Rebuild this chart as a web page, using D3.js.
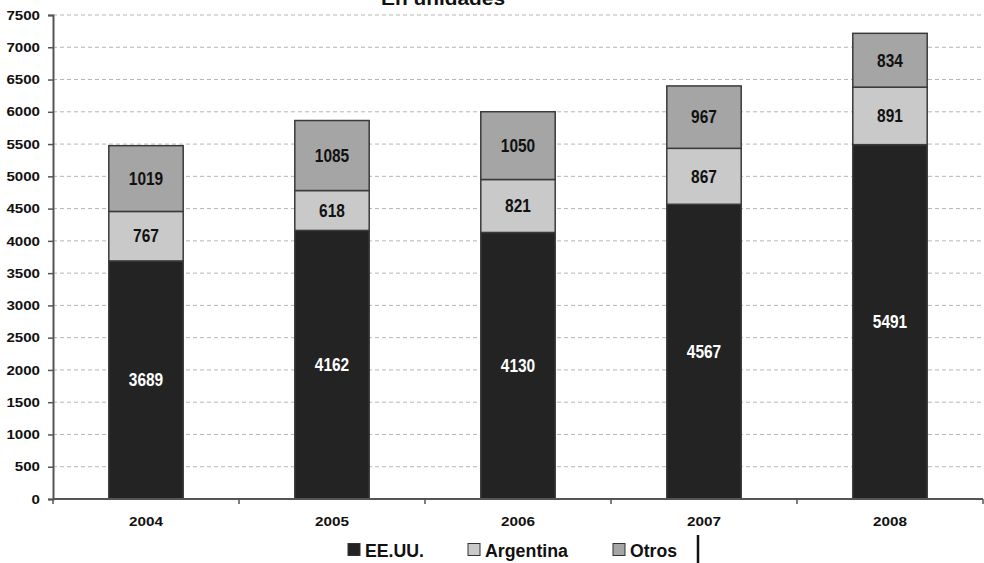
<!DOCTYPE html>
<html><head><meta charset="utf-8">
<script src="https://cdn.jsdelivr.net/npm/d3@7"></script>
<style>body{margin:0;background:#fff}svg{display:block}</style>
</head><body>
<svg id="c" width="984" height="563"></svg>
<script>
const years = ["2004","2005","2006","2007","2008"];
const seriesNames = ["EE.UU.","Argentina","Otros"];
const eeuu = [3689,4162,4130,4567,5491];
const argentina = [767,618,821,867,891];
const otros = [1019,1085,1050,967,834];
const yTicks = [0,500,1000,1500,2000,2500,3000,3500,4000,4500,5000,5500,6000,6500,7000,7500];
const colors = ["#232323","#c9c9c9","#a5a5a5"];
const labelColors = ["#ffffff","#111","#111"];

(function(){
const FONT = "'Liberation Sans',Arial,sans-serif";
const data = years.map((y,i)=>({year:y,"EE.UU.":eeuu[i],"Argentina":argentina[i],"Otros":otros[i]}));
const stack = d3.stack().keys(seriesNames)(data);

const svg = d3.select("#c");
const mLeft = 53, mRight = 983, mTop = 15, mBottom = 499;
const x = d3.scaleBand().domain(years).range([mLeft,mRight]).paddingInner(0.6).paddingOuter(0.3);
const y = d3.scaleLinear().domain([0,7500]).range([mBottom,mTop]);

svg.append("g").selectAll("line").data(yTicks.filter(d=>d>0)).join("line")
  .attr("x1",mLeft).attr("x2",984).attr("y1",d=>y(d)).attr("y2",d=>y(d))
  .attr("stroke","#b5b5b5").attr("stroke-dasharray","4,3").attr("stroke-width",1);

const g = svg.append("g");
stack.forEach((s,si)=>{
  g.append("g").selectAll("rect").data(s).join("rect")
    .attr("x",d=>x(d.data.year)).attr("width",x.bandwidth())
    .attr("y",d=>y(d[1])).attr("height",d=>y(d[0])-y(d[1]))
    .attr("fill",colors[si]).attr("stroke","#3a3a3a").attr("stroke-width",1.5);
});
stack.forEach((s,si)=>{
  g.append("g").selectAll("text").data(s).join("text")
    .attr("x",d=>x(d.data.year)+x.bandwidth()/2)
    .attr("y",d=>(y(d[0])+y(d[1]))/2)
    .attr("dy","0.36em").attr("text-anchor","middle")
    .attr("font-family",FONT)
    .attr("font-weight","bold").attr("font-size",17.5)
    .attr("fill",labelColors[si])
    .text(d=>d[1]-d[0])
    .attr("textLength",d=>String(d[1]-d[0]).length*8.6)
    .attr("lengthAdjust","spacingAndGlyphs");
});

const ya = svg.append("g").attr("transform",`translate(${mLeft},0)`)
  .call(d3.axisLeft(y).tickValues(yTicks).tickSize(5).tickPadding(8).tickFormat(d3.format("d")));
ya.select(".domain").attr("stroke","#555").attr("stroke-width",2);
ya.selectAll(".tick line").attr("stroke","#555").attr("stroke-width",1.5);
ya.selectAll("text").attr("font-family",FONT).attr("font-weight","bold")
  .attr("font-size",13).attr("fill","#111")
  .attr("textLength",d=>String(d).length*8.4).attr("lengthAdjust","spacingAndGlyphs");

const xa = svg.append("g").attr("transform",`translate(0,${mBottom})`);
xa.append("line").attr("x1",mLeft).attr("x2",mRight).attr("y1",0).attr("y2",0).attr("stroke","#555").attr("stroke-width",2);
const tickXs = d3.range(6).map(i=>mLeft + i*(mRight-mLeft)/5);
xa.selectAll(".tk").data(tickXs).join("line").attr("class","tk")
  .attr("x1",d=>d).attr("x2",d=>d).attr("y1",0).attr("y2",5).attr("stroke","#555").attr("stroke-width",1.5);
xa.selectAll("text").data(years).join("text")
  .attr("x",d=>x(d)+x.bandwidth()/2).attr("y",27).attr("text-anchor","middle")
  .attr("font-family",FONT).attr("font-weight","bold")
  .attr("font-size",13).attr("fill","#111").text(d=>d)
  .attr("textLength",34).attr("lengthAdjust","spacingAndGlyphs");

svg.append("text").attr("x",443).attr("y",5).attr("text-anchor","middle")
  .attr("font-family",FONT).attr("font-weight","bold")
  .attr("font-size",18).attr("fill","#111").text("En unidades")
  .attr("textLength",124).attr("lengthAdjust","spacingAndGlyphs");

const legX = [348,468,613];
const legW = [59,83,47];
const leg = svg.append("g");
seriesNames.forEach((n,i)=>{
  leg.append("rect").attr("x",legX[i]).attr("y",543.5).attr("width",12).attr("height",12)
    .attr("fill",colors[i]).attr("stroke","#333").attr("stroke-width",1);
  leg.append("text").attr("x",legX[i]+17).attr("y",557)
    .attr("font-family",FONT).attr("font-weight","bold")
    .attr("font-size",18).attr("fill","#111").text(n)
    .attr("textLength",legW[i]).attr("lengthAdjust","spacingAndGlyphs");
});
svg.append("line").attr("x1",698).attr("x2",698).attr("y1",535).attr("y2",563).attr("stroke","#111").attr("stroke-width",2.5);
})();
</script>
</body></html>
